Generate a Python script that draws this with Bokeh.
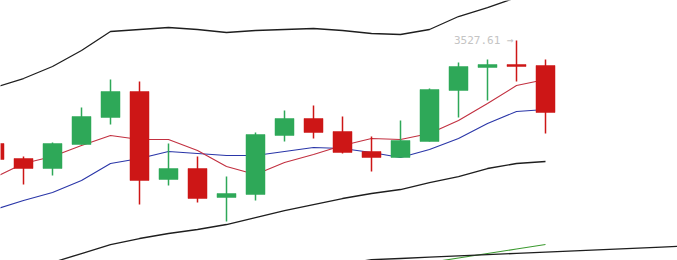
from bokeh.plotting import figure
from bokeh.models import Range1d, ColumnDataSource
from bokeh.embed import file_html
from bokeh.resources import INLINE
from bokeh.core.properties import value

# ---- data ----
idx = [-1, 0, 1, 2, 3, 4, 5, 6, 7, 8, 9, 10, 11, 12, 13, 14, 15, 16, 17, 18]
opens = [3445.2, 3433.2, 3425.2, 3444.4, 3466.0, 3486.8, 3416.4, 3425.2, 3402.0, 3404.4,
         3451.6, 3465.2, 3454.8, 3438.8, 3434.0, 3446.8, 3487.6, 3506.0, 3508.4, 3507.6]
highs = [3447.6, 3434.8, 3446.0, 3474.0, 3496.4, 3494.8, 3445.2, 3434.8, 3418.8, 3454.0,
         3471.6, 3475.6, 3466.8, 3450.8, 3463.6, 3489.2, 3510.0, 3512.4, 3527.61, 3512.4]
lows = [3430.0, 3412.4, 3419.6, 3444.4, 3460.4, 3396.4, 3411.6, 3398.0, 3382.8, 3399.6,
        3446.8, 3449.2, 3437.2, 3422.8, 3434.0, 3446.8, 3466.0, 3479.6, 3494.8, 3453.2]
closes = [3432.4, 3425.2, 3445.2, 3466.8, 3486.8, 3415.6, 3425.2, 3401.2, 3405.2, 3452.4,
          3465.2, 3454.0, 3438.0, 3434.0, 3447.6, 3488.4, 3506.8, 3508.4, 3506.8, 3470.0]

ma5 = [3418.0, 3429.2, 3434.8, 3443.6, 3451.6, 3448.4, 3448.4, 3439.6, 3426.8, 3420.4,
       3430.0, 3436.4, 3443.6, 3449.2, 3448.4, 3453.2, 3463.6, 3477.2, 3491.6, 3496.4]
ma10 = [3392.4, 3399.6, 3406.0, 3415.6, 3429.2, 3433.2, 3438.8, 3437.2, 3435.6, 3435.6,
        3438.8, 3442.0, 3441.2, 3438.0, 3434.0, 3440.4, 3449.2, 3461.2, 3470.8, 3472.4]
upper = [3490.0, 3497.2, 3506.8, 3519.6, 3534.8, 3536.4, 3538.0, 3536.4, 3534.0, 3535.6,
         3536.4, 3537.2, 3535.6, 3533.2, 3532.4, 3536.4, 3546.8, 3554.0, 3562.0, 3569.2]
lower = [3334.8, 3342.0, 3350.0, 3357.2, 3364.4, 3369.2, 3373.2, 3376.4, 3380.4, 3386.0,
         3391.6, 3396.4, 3401.2, 3405.2, 3408.4, 3414.0, 3418.8, 3425.2, 3429.2, 3430.8]

green_idx = [14, 15, 16, 17, 18]
green_line = [3350.0, 3353.6, 3357.2, 3360.8, 3364.4]

trend_idx = [11, 12, 13, 14, 15, 16, 17, 18, 19, 20, 21, 22, 23]
trend_line = [3349.0, 3352.2, 3353.2, 3354.3, 3355.3, 3356.3, 3357.3, 3358.3, 3359.3,
              3360.3, 3361.3, 3362.3, 3363.3]

high_label = "3527.61 →"
high_value = 3527.61

# ---- styles ----
UP = "#2ea858"
DOWN = "#cd1616"

colors = [UP if c >= o else DOWN for o, c in zip(opens, closes)]
tops = [max(o, c) for o, c in zip(opens, closes)]
bots = [min(o, c) for o, c in zip(opens, closes)]
src = ColumnDataSource(dict(x=idx, o=opens, h=highs, l=lows, c=closes,
                            top=tops, bottom=bots, color=colors))

p = figure(width=677, height=260, output_backend="svg", toolbar_location=None,
           x_range=Range1d(-23 / 29, 654 / 29), y_range=Range1d(3351.61, 3559.61),
           min_border=0, min_border_left=0, min_border_right=0,
           min_border_top=0, min_border_bottom=0)
p.axis.visible = False
p.grid.visible = False
p.outline_line_color = None
p.background_fill_color = "white"
p.border_fill_color = "white"

# bands and moving averages
p.line(idx, upper, line_color="#1e1e1e", line_width=1.3)
p.line(idx, lower, line_color="#1e1e1e", line_width=1.3)
p.line(idx, ma10, line_color="#2a36a8", line_width=1.1)
p.line(idx, ma5, line_color="#c23040", line_width=1.1)
p.line(green_idx, green_line, line_color="#3c9a30", line_width=1.1)
p.line(trend_idx, trend_line, line_color="#1e1e1e", line_width=1.3)

# candles
p.segment(x0="x", y0="h", x1="x", y1="l", line_color="color", line_width=1.5, source=src)
p.vbar(x="x", width=0.655, top="top", bottom="bottom", fill_color="color",
       line_color="color", line_width=0.5, source=src)

# high label
p.text(x=[16.9], y=[high_value], text=[high_label], text_align="right",
       text_baseline="middle", text_font=value("DejaVu Sans Mono"),
       text_font_size="11px", text_color="#c4c4c4")

open("out.html", "w").write(file_html(p, INLINE))
